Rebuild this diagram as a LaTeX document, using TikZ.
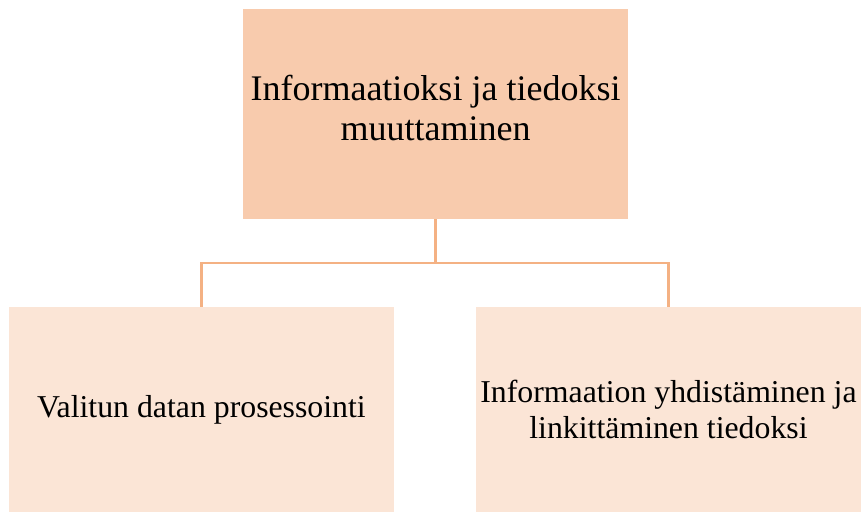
\documentclass[tikz,border=0pt]{standalone}
\usepackage{fontspec}
\setmainfont{Liberation Serif}
\definecolor{topfill}{HTML}{F8CBAD}
\definecolor{subfill}{HTML}{FBE5D6}
\definecolor{linkline}{HTML}{F4B183}
\begin{document}
\begin{tikzpicture}[x=1pt,y=-1pt,
  topbox/.style={fill=topfill, draw=none, minimum width=385pt, minimum height=210pt,
    align=center, font=\fontsize{36}{40}\selectfont, inner sep=0pt},
  subbox/.style={fill=subfill, draw=none, minimum width=385pt, minimum height=205pt,
    align=center, font=\fontsize{31.8}{36}\selectfont, inner sep=0pt},
  link/.style={draw=linkline, line width=2.2pt}]
\useasboundingbox (0,0) rectangle (863,513);
\node[topbox] (top) at (435.5,114) {};
\node[align=center, font=\fontsize{36}{40}\selectfont, inner sep=0pt] (toptext) at (435.5,108) {Informaatioksi ja tiedoksi\\muuttaminen};
\node[subbox] (left) at (201.5,409.5) {Valitun datan prosessointi};
\node[subbox] (right) at (668.5,409.5) {Informaation yhdistäminen ja\\linkittäminen tiedoksi};
\coordinate (junction) at (435.5,263);
\draw[link] (top.south) -- (junction) -| (left.north);
\draw[link] (junction) -| (right.north);
\end{tikzpicture}
\end{document}
